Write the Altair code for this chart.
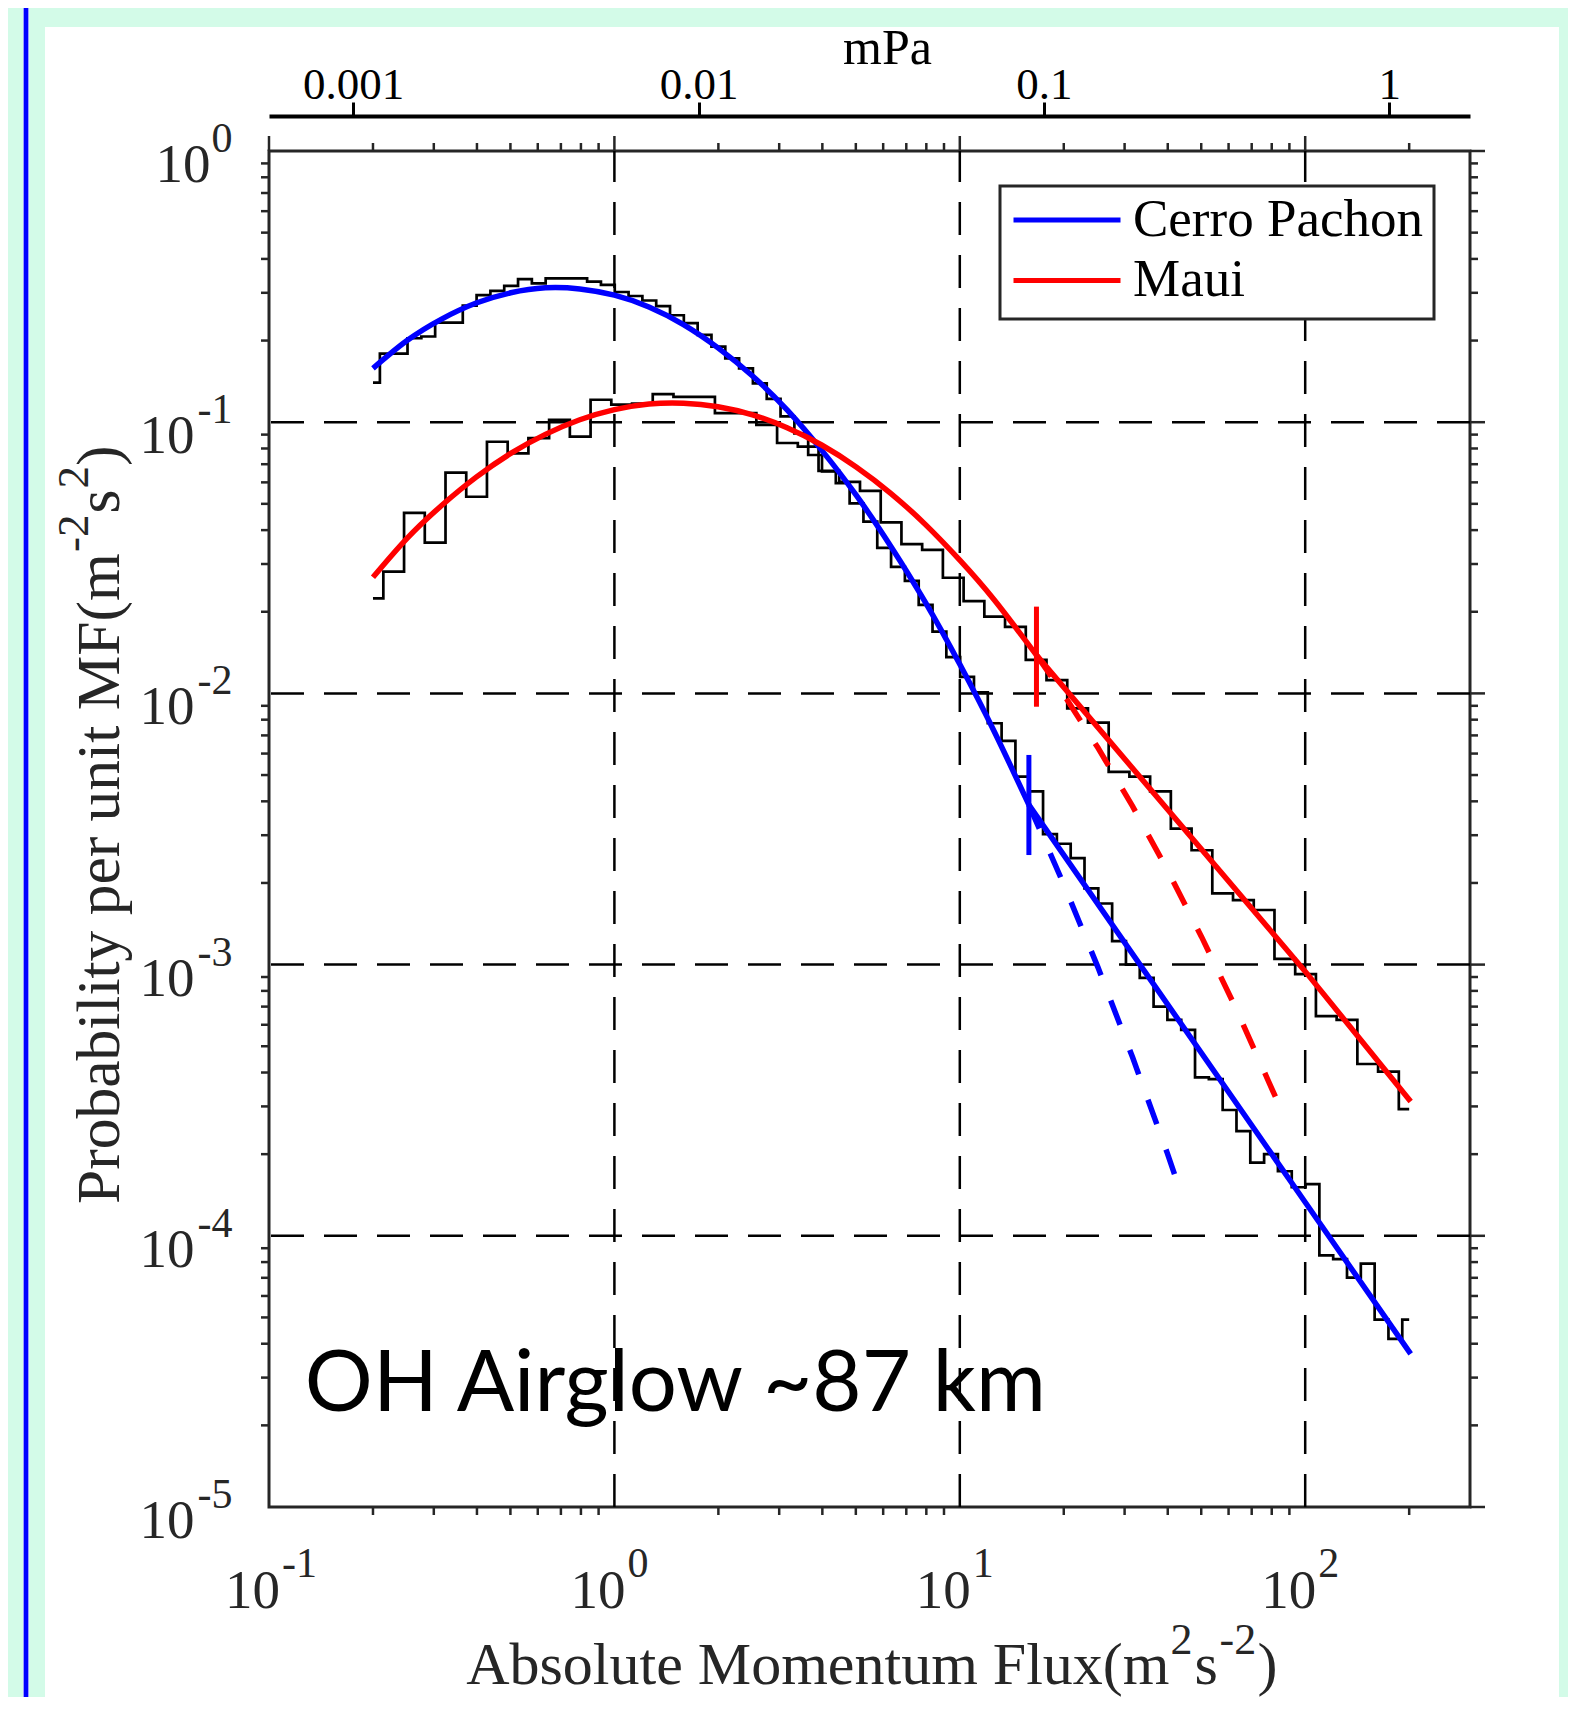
import numpy as np
import pandas as pd
import altair as alt

# ---------------- layout constants ----------------
W, H = 1201, 1356
SERIF = "Liberation Serif"
AX = "#262626"
MINT = "#d3fbe8"

# ---------------- data ----------------
sites = ["Cerro Pachon", "Maui"]
site_colors = ["#0000ff", "#ff0000"]

# histogram: probability per unit MF, log-spaced bins centred from 0.2 to 200 m^2 s^-2
HIST_FIRST, HIST_LAST = 0.2, 200.0
cp_hist = [0.140, 0.179, 0.179, 0.204, 0.207, 0.233, 0.233, 0.269, 0.294, 0.305,
           0.318, 0.337, 0.325, 0.339, 0.339, 0.339, 0.330, 0.321, 0.302, 0.292,
           0.281, 0.268, 0.248, 0.232, 0.210, 0.190, 0.172, 0.158, 0.139, 0.122,
           0.105, 0.0910, 0.0757, 0.0658, 0.0596, 0.0502, 0.0430, 0.0344, 0.0293, 0.0260,
           0.0212, 0.0169, 0.0136, 0.0115, 0.0101, 0.00776, 0.00668, 0.00493, 0.00435, 0.00303,
           0.00279, 0.00247, 0.00191, 0.00168, 0.00122, 0.00100, 0.000893, 0.000700, 0.000625, 0.000575,
           0.000384, 0.000378, 0.000291, 0.000243, 0.000186, 0.000200, 0.000173, 0.000151, 0.000155, 0.0000847,
           0.0000820, 0.0000701, 0.0000789, 0.0000491, 0.0000417, 0.0000491]
maui_hist = [0.0224, 0.0281, 0.0463, 0.0360, 0.0652, 0.0531, 0.0847, 0.0767, 0.0873, 0.102,
             0.0885, 0.121, 0.116, 0.117, 0.127, 0.124, 0.124, 0.108, 0.108, 0.0977,
             0.0838, 0.0813, 0.0661, 0.0603, 0.0558, 0.0427, 0.0355, 0.0338, 0.0267, 0.0219,
             0.0192, 0.0176, 0.0133, 0.0112, 0.00881, 0.00780, 0.00514, 0.00493, 0.00435, 0.00317,
             0.00264, 0.00183, 0.00173, 0.00159, 0.00105, 0.000923, 0.000646, 0.000625, 0.000430, 0.000403,
             0.000293]

# log-normal fits (solid up to the transition, dashed beyond)
cp_logn_x = [0.2, 0.251, 0.316, 0.398, 0.501, 0.631, 0.794, 1.0, 1.259, 1.585,
             1.995, 2.512, 3.162, 3.981, 5.012, 6.31, 7.943, 10.0, 12.59, 15.85]
cp_logn_p = [0.158, 0.200, 0.240, 0.275, 0.300, 0.313, 0.310, 0.294, 0.266, 0.229,
             0.188, 0.148, 0.111, 0.0789, 0.0538, 0.0349, 0.0217, 0.0128, 0.00722, 0.00388]
cp_ext_x = [15.85, 19.95, 25.12, 31.62, 39.81, 44.0]
cp_ext_p = [0.00388, 0.00199, 0.000977, 0.000456, 0.000203, 0.000140]
maui_logn_x = [0.2, 0.251, 0.316, 0.398, 0.501, 0.631, 0.794, 1.0, 1.259, 1.585,
               1.995, 2.512, 3.162, 3.981, 5.012, 6.31, 7.943, 10.0, 12.59, 16.67]
maui_logn_p = [0.0268, 0.0373, 0.0493, 0.0627, 0.0767, 0.0902, 0.1021, 0.1113, 0.1167, 0.1175,
               0.1140, 0.1064, 0.0954, 0.0824, 0.0684, 0.0547, 0.0420, 0.0310, 0.0221, 0.01384]
maui_ext_x = [16.67, 19.95, 25.12, 31.62, 39.81, 50.12, 63.1, 83.5]
maui_ext_p = [0.01384, 0.00994, 0.00630, 0.00384, 0.002246, 0.001265, 0.000687, 0.000309]

# power-law tails
cp_pow_x = [15.85, 100.0, 202.0]
cp_pow_p = [0.00388, 0.000133, 0.0000367]
maui_pow_x = [16.67, 100.0, 202.0]
maui_pow_p = [0.01384, 0.000944, 0.000313]

# transition markers
marker_x = [15.85, 16.67]
marker_lo = [0.002535, 0.00893]
marker_hi = [0.00593, 0.02089]

# ticks and labels
x_major = [0.1, 1, 10, 100]
x_major_exp = ["-1", "0", "1", "2"]
x_minor = [0.2, 0.3, 0.4, 0.5, 0.6, 0.7, 0.8, 0.9,
           2, 3, 4, 5, 6, 7, 8, 9,
           20, 30, 40, 50, 60, 70, 80, 90, 200]
y_major = [1, 0.1, 0.01, 0.001, 0.0001, 0.00001]
y_major_exp = ["0", "-1", "-2", "-3", "-4", "-5"]
y_minor = [m * 10.0 ** k for k in range(-5, 0) for m in range(2, 10)]
x_grid = [1, 10, 100]
y_grid = [0.1, 0.01, 0.001, 0.0001]
mpa_ticks = [0.001, 0.01, 0.1, 1]
MPA_PER_MF = 0.005707
X_DOMAIN = [0.1, 300]
Y_DOMAIN = [0.00001, 1]

# ---------------- tables ----------------
cp_centers = np.logspace(np.log10(HIST_FIRST), np.log10(HIST_LAST), len(cp_hist))
maui_centers = np.logspace(np.log10(HIST_FIRST), np.log10(HIST_LAST), len(maui_hist))
hist_df = pd.concat([
    pd.DataFrame({"site": sites[0], "mf": cp_centers, "p": cp_hist}),
    pd.DataFrame({"site": sites[1], "mf": maui_centers, "p": maui_hist}),
])
logn_df = pd.concat([
    pd.DataFrame({"site": sites[0], "mf": cp_logn_x, "p": cp_logn_p}),
    pd.DataFrame({"site": sites[1], "mf": maui_logn_x, "p": maui_logn_p}),
])
ext_df = pd.concat([
    pd.DataFrame({"site": sites[0], "mf": cp_ext_x, "p": cp_ext_p}),
    pd.DataFrame({"site": sites[1], "mf": maui_ext_x, "p": maui_ext_p}),
])
pow_df = pd.concat([
    pd.DataFrame({"site": sites[0], "mf": cp_pow_x, "p": cp_pow_p}),
    pd.DataFrame({"site": sites[1], "mf": maui_pow_x, "p": maui_pow_p}),
])
marker_df = pd.DataFrame({"site": sites, "mf": marker_x, "lo": marker_lo, "hi": marker_hi})
xlab_df = pd.DataFrame({"mf": x_major, "base": "10", "exp": x_major_exp})
ylab_df = pd.DataFrame({"p": y_major, "base": "10", "exp": y_major_exp})
one = pd.DataFrame({"a": [0]})

xs = alt.Scale(type="log", domain=X_DOMAIN, nice=False)
ys = alt.Scale(type="log", domain=Y_DOMAIN, nice=False)
cs = alt.Scale(domain=sites, range=site_colors)

X = lambda f="mf": alt.X(f"{f}:Q", scale=xs, axis=None)
Y = lambda f="p": alt.Y(f"{f}:Q", scale=ys, axis=None)

legend = alt.Legend(
    title=None, orient="none", legendX=731, legendY=35,
    symbolType="stroke", symbolSize=11449, symbolStrokeWidth=5,
    labelFont=SERIF, labelFontSize=53, labelColor="black", labelOffset=10,
    labelLimit=1000, padding=11, rowPadding=7.4, clipHeight=46,
    fillColor="white", strokeColor=AX,
)

# ---------------- decoration (slide background) ----------------
def rect(x, x2, y, y2, color):
    return alt.Chart(one).mark_rect(color=color).encode(
        x=alt.value(x), x2=alt.value(x2), y=alt.value(y), y2=alt.value(y2))

decor = [
    rect(-261, -224, -143, H + 190, MINT),
    rect(-261, W + 98, -143, -124, MINT),
    rect(1290, W + 98, -143, H + 190, MINT),
    rect(-246, -240, -143, H + 190, "#9a9aff"),
    rect(-245, -241, -143, H + 190, "#0000ff"),
]

# ---------------- grid ----------------
grid_x = alt.Chart(pd.DataFrame({"mf": x_grid})).mark_rule(
    color="black", strokeWidth=2.5, strokeDash=[33, 20]).encode(
    x=X(), y=alt.value(H), y2=alt.value(0))
grid_y = alt.Chart(pd.DataFrame({"p": y_grid})).mark_rule(
    color="black", strokeWidth=2.5, strokeDash=[33, 20]).encode(y=Y())

# ---------------- data marks ----------------
hist = alt.Chart(hist_df).mark_line(interpolate="step", color="black", strokeWidth=2.7).encode(
    x=alt.X("mf:Q", scale=xs, axis=alt.Axis(
        orient="bottom", values=x_major, labels=False, title=None, grid=False,
        tickSize=15, tickWidth=2.5, tickColor=AX, domainColor=AX, domainWidth=3, zindex=1)),
    y=alt.Y("p:Q", scale=ys, axis=alt.Axis(
        orient="left", values=y_major, labels=False, title=None, grid=False,
        tickSize=15, tickWidth=2.5, tickColor=AX, domainColor=AX, domainWidth=3, zindex=1)),
    detail="site:N",
)
# solid log-normal fit carries the legend (first colour layer)
logn = alt.Chart(logn_df).mark_line(interpolate="natural", strokeWidth=5.5).encode(
    x=X(), y=Y(), color=alt.Color("site:N", scale=cs, legend=legend))
ext = alt.Chart(ext_df).mark_line(strokeWidth=5.5, strokeDash=[26, 27]).encode(
    x=X(), y=Y(), color=alt.Color("site:N", scale=cs, legend=legend))
powl = alt.Chart(pow_df).mark_line(strokeWidth=5.5).encode(
    x=X(), y=Y(), color=alt.Color("site:N", scale=cs, legend=legend))
markers = alt.Chart(marker_df).mark_rule(strokeWidth=5).encode(
    x=X(), y=Y("hi"), y2="lo:Q", color=alt.Color("site:N", scale=cs, legend=legend))

# ---------------- extra ticks (minor + box) ----------------
def xticks(vals, y0, y1):
    return alt.Chart(pd.DataFrame({"mf": vals})).mark_rule(color=AX, strokeWidth=2.5).encode(
        x=X(), y=alt.value(y0), y2=alt.value(y1))

def yticks(vals, x0, x1):
    return alt.Chart(pd.DataFrame({"p": vals})).mark_rule(color=AX, strokeWidth=2.5).encode(
        y=Y(), x=alt.value(x0), x2=alt.value(x1))

ticks = [
    xticks(x_minor, H, H + 8), xticks(x_minor, 0, -8), xticks(x_major, 0, -15),
    yticks(y_minor, 0, -8), yticks(y_minor, W, W + 8), yticks(y_major, W, W + 15),
]

# ---------------- tick labels (10 with superscript exponent) ----------------
xl_base = alt.Chart(xlab_df).mark_text(
    align="right", baseline="alphabetic", dx=11, font=SERIF, fontSize=55, color=AX).encode(
    x=X(), y=alt.value(H + 101), text="base:N")
xl_exp = alt.Chart(xlab_df).mark_text(
    align="left", baseline="alphabetic", dx=13, font=SERIF, fontSize=42, color=AX).encode(
    x=X(), y=alt.value(H + 70), text="exp:N")
yl_exp = alt.Chart(ylab_df).mark_text(
    align="right", baseline="alphabetic", dy=1, font=SERIF, fontSize=42, color=AX).encode(
    y=Y(), x=alt.value(-36.5), text="exp:N")
yl_base0 = alt.Chart(ylab_df).transform_filter(alt.datum.exp == "0").mark_text(
    align="right", baseline="alphabetic", dy=31, font=SERIF, fontSize=55, color=AX).encode(
    y=Y(), x=alt.value(-58.5), text="base:N")
yl_base = alt.Chart(ylab_df).transform_filter(alt.datum.exp != "0").mark_text(
    align="right", baseline="alphabetic", dy=31, font=SERIF, fontSize=55, color=AX).encode(
    y=Y(), x=alt.value(-74.5), text="base:N")

# ---------------- axis titles with superscripts ----------------
def piece(txt, x, y, size, align="left", angle=0):
    return alt.Chart(one).mark_text(
        text=txt, align=align, baseline="alphabetic", angle=angle,
        font=SERIF, fontSize=size, color=AX).encode(x=alt.value(x), y=alt.value(y))

XR = 900.5
XB = H + 177
xtitle = [
    piece("Absolute Momentum Flux(m", XR, XB, 60, align="right"),
    piece("2", XR + 1, XB - 30, 44),
    piece("s", XR + 25, XB, 60),
    piece("-2", XR + 50, XB - 30, 44),
    piece(")", XR + 88, XB, 60),
]
YB = -150
ytitle = [
    piece("Probability per unit MF(m", YB, 1053, 61.5, angle=270),
    piece("-2", YB - 31, 401, 45, angle=270),
    piece("s", YB, 362.5, 61.5, angle=270),
    piece("2", YB - 31, 337.5, 45, angle=270),
    piece(")", YB, 315, 61.5, angle=270),
]

annot = alt.Chart(pd.DataFrame({"mf": [0.127], "p": [2.26e-5], "t": ["OH Airglow ~87 km"]})).mark_text(
    align="left", baseline="alphabetic", font="Lato", fontSize=85, color="black").encode(
    x=X(), y=Y(), text="t:N")

main = alt.layer(
    *decor, grid_x, grid_y, hist, logn, ext, powl, markers, *ticks,
    xl_base, xl_exp, yl_exp, yl_base0, yl_base, *xtitle, *ytitle, annot,
)

# ---------------- secondary top axis in mPa ----------------
mpa = alt.Chart(pd.DataFrame({"mpa": mpa_ticks})).mark_point(opacity=0).encode(
    x=alt.X("mpa:Q",
            scale=alt.Scale(type="log", nice=False,
                            domain=[X_DOMAIN[0] * MPA_PER_MF, X_DOMAIN[1] * MPA_PER_MF]),
            axis=alt.Axis(orient="top", offset=35, values=mpa_ticks, format="~g",
                          title="mPa", titleFont=SERIF, titleFontSize=50, titleFontWeight="normal",
                          titleColor="black", titleX=618, titleY=-53, titleBaseline="alphabetic",
                          labelFont=SERIF, labelFontSize=45, labelColor="black",
                          labelBaseline="alphabetic", labelPadding=4, labelFlush=False,
                          labelOverlap=False, tickSize=14, tickWidth=3, tickColor="black",
                          domainColor="black", domainWidth=4, grid=False)),
)

chart = alt.layer(main, mpa).resolve_scale(x="independent").properties(
    width=W, height=H,
    padding={"left": 261, "top": 143, "right": 98, "bottom": 190},
    autosize=alt.AutoSizeParams(type="none"),
    background="white",
).configure_view(stroke=AX, strokeWidth=3).configure_legend(strokeWidth=3)

chart.save("out.html", embed_options={"renderer": "svg", "actions": False})
